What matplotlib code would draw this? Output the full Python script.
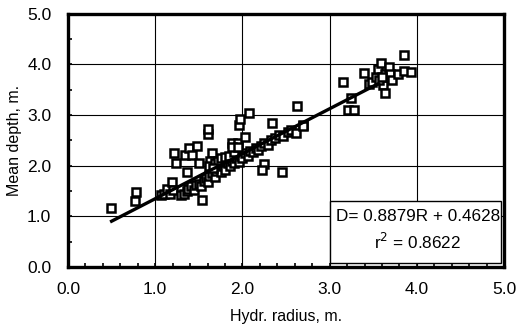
import numpy as np
import matplotlib.pyplot as plt
from matplotlib.ticker import MultipleLocator
from matplotlib.patches import Rectangle

plt.rcParams['font.family'] = ['Liberation Sans', 'DejaVu Sans']

# hydraulic radius (m) and mean depth (m)
radius = [0.49, 0.78, 0.77, 1.07, 1.10, 1.14, 1.19, 1.17, 1.20,
          1.21, 1.24, 1.34, 1.39, 1.48, 1.42, 1.36, 1.50,
          1.60, 1.61, 1.65, 1.63, 1.54,
          1.30, 1.33, 1.36, 1.38, 1.41, 1.44, 1.47, 1.50, 1.53, 1.56, 1.58,
          1.60, 1.62, 1.65, 1.68, 1.70, 1.73, 1.75, 1.78, 1.80, 1.83, 1.86,
          1.88, 1.90, 1.93, 1.96, 1.98, 2.00, 2.03, 2.06, 2.09, 2.12, 2.15,
          2.18, 2.21, 2.25, 2.29, 2.33, 2.37, 2.42, 2.46, 2.52, 2.56,
          1.62, 1.68, 1.72, 1.76, 1.66, 1.80, 1.85, 1.90,
          1.88, 1.95, 1.88, 1.95, 2.03,
          1.96, 1.97, 2.07,
          2.34, 2.63, 2.69, 2.61,
          2.25, 2.23, 2.45, 2.70,
          3.15, 3.21, 3.28, 3.24, 3.39,
          3.45, 3.49, 3.53, 3.56, 3.59, 3.61, 3.63, 3.64, 3.68, 3.69,
          3.72, 3.78, 3.85, 3.93, 3.85, 3.57, 3.60]
depth = [1.17, 1.48, 1.30, 1.42, 1.45, 1.55, 1.69, 1.45, 1.52,
         2.25, 2.05, 2.22, 2.35, 2.39, 2.21, 1.88, 2.05,
         2.63, 2.72, 2.25, 2.10, 1.33,
         1.42, 1.45, 1.50, 1.55, 1.60, 1.52, 1.62, 1.65, 1.60, 1.70, 1.75,
         1.68, 1.80, 1.85, 1.78, 1.90, 1.95, 1.88, 2.00, 1.92, 2.05, 2.00,
         2.10, 2.05, 2.15, 2.08, 2.20, 2.15, 2.25, 2.20, 2.30, 2.28, 2.35,
         2.32, 2.40, 2.45, 2.42, 2.50, 2.55, 2.60, 2.58, 2.66, 2.70,
         2.00, 2.05, 2.10, 2.15, 1.95, 2.18, 2.20, 2.28,
         2.46, 2.46, 2.37, 2.37, 2.57,
         2.80, 2.93, 3.05,
         2.85, 3.19, 2.80, 2.65,
         2.04, 1.92, 1.88, 2.78,
         3.65, 3.11, 3.11, 3.34, 3.83,
         3.62, 3.66, 3.76, 3.92, 4.03, 3.59, 3.43, 3.82, 3.95, 3.82,
         3.70, 3.82, 3.88, 3.86, 4.19, 3.70, 3.75]

slope = 0.8879
intercept = 0.4628
r2 = 0.8622
fit_x = np.array([0.5, 3.56])

fig = plt.figure(figsize=(5.17, 3.29), dpi=100)
ax = fig.add_axes([0.1315, 0.188, 0.8435, 0.77])

ax.grid(True, color='black', linewidth=0.8)
ax.set_axisbelow(True)
ax.plot(radius, depth, 's', markersize=5.5, markerfacecolor='white',
        markeredgecolor='black', markeredgewidth=1.8, zorder=3)
ax.plot(fit_x, slope * fit_x + intercept, color='black', linewidth=2.4, zorder=4)

ax.set_xlim(0, 5)
ax.set_ylim(0, 5)
ax.xaxis.set_major_locator(MultipleLocator(1))
ax.yaxis.set_major_locator(MultipleLocator(1))
ax.xaxis.set_minor_locator(MultipleLocator(0.2))
ax.yaxis.set_minor_locator(MultipleLocator(0.5))
ax.xaxis.set_major_formatter(plt.FormatStrFormatter('%.1f'))
ax.yaxis.set_major_formatter(plt.FormatStrFormatter('%.1f'))
ax.tick_params(which='both', direction='in', length=3, width=1.2, labelsize=12.5)
ax.tick_params(axis='x', pad=11)
ax.tick_params(axis='y', pad=12)
for s in ax.spines.values():
    s.set_linewidth(2.4)

ax.set_xlabel('Hydr. radius, m.', fontsize=11.5, labelpad=8)
ax.set_ylabel('Mean depth, m.', fontsize=11.5, labelpad=4)

# equation box in the lower right corner
ax.add_patch(Rectangle((3.0, 0.09), 1.97, 1.21, facecolor='white',
                       edgecolor='black', linewidth=1, zorder=5))
ax.text(4.01, 0.99, 'D= %.4fR + %.4f' % (slope, intercept),
        ha='center', va='center', fontsize=12.3, zorder=6)
ax.text(4.01, 0.49, 'r$^2$ = %.4f' % r2,
        ha='center', va='center', fontsize=12.3, zorder=6)

fig.savefig('out.png', dpi=100)
